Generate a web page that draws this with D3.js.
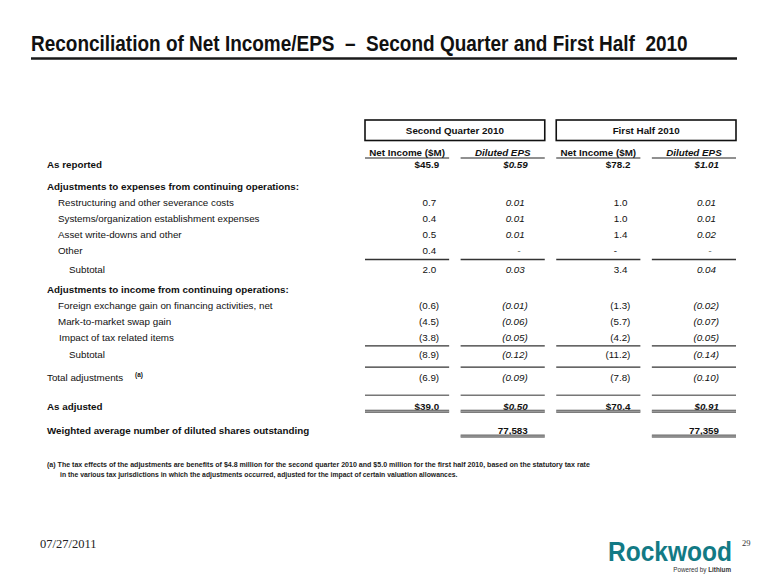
<!DOCTYPE html>
<html>
<head>
<meta charset="utf-8">
<script src="https://cdn.jsdelivr.net/npm/d3@7"></script>
<style>
  html, body { margin: 0; padding: 0; background: #ffffff; }
  svg { display: block; }
  text { white-space: pre; }
</style>
</head>
<body>
<svg id="chart" width="780" height="585"></svg>
<script>
// ---------------- DATA ----------------
const titleText = "Reconciliation of Net Income/EPS  \u2013  Second Quarter and First Half  2010";
const periods = ["Second Quarter 2010", "First Half 2010"];
const columnKeys = ["q2ni", "q2eps", "h1ni", "h1eps"];
const columnHeaders = ["Net Income ($M)", "Diluted EPS", "Net Income ($M)", "Diluted EPS"];
const rowLabels = [
  "As reported",
  "Adjustments to expenses from continuing operations:",
  "Restructuring and other severance costs",
  "Systems/organization establishment expenses",
  "Asset write-downs and other",
  "Other",
  "Subtotal",
  "Adjustments to income from continuing operations:",
  "Foreign exchange gain on financing activities, net",
  "Mark-to-market swap gain",
  "Impact of tax related items",
  "Subtotal",
  "Total adjustments",
  "As adjusted",
  "Weighted average number of diluted shares outstanding"
];
const netIncomeQ2 = [45.9, null, 0.7, 0.4, 0.5, 0.4, 2.0, null, -0.6, -4.5, -3.8, -8.9, -6.9, 39.0, null];
const epsQ2       = [0.59, null, 0.01, 0.01, 0.01, 0, 0.03, null, -0.01, -0.06, -0.05, -0.12, -0.09, 0.50, null];
const netIncomeH1 = [78.2, null, 1.0, 1.0, 1.4, 0, 3.4, null, -1.3, -5.7, -4.2, -11.2, -7.8, 70.4, null];
const epsH1       = [1.01, null, 0.01, 0.01, 0.02, 0, 0.04, null, -0.02, -0.07, -0.05, -0.14, -0.10, 0.91, null];
const dilutedShares = [77583, 77359];
const footnoteLines = [
  "(a) The tax effects of the adjustments are benefits of $4.8 million for the second quarter 2010 and $5.0 million for the first half 2010, based on the statutory tax rate",
  "in the various tax jurisdictions in which the adjustments occurred, adjusted for the impact of certain valuation allowances."
];
const footerDate = "07/27/2011";
const pageNumber = "29";

// ---------------- LAYOUT (not data) ----------------
const rowKind = ["bold","section","item","item","item","item","subtotal","section","item","item","item","subtotal","plain","bold","bold"];
const rowSlot = [0, 1.4, 2.35, 3.35, 4.35, 5.35, 6.55, 7.8, 8.8, 9.8, 10.8, 11.9, 13.3, 15.1, 16.65];
const dollarRows = [0, 13];
const boldValueRows = [0, 13, 14];
const rules = [
  {slot: 5.72, type: "single", cols: columnKeys},
  {slot: 11.12, type: "single", cols: columnKeys},
  {slot: 12.44, type: "single", cols: columnKeys},
  {slot: 14.2, type: "thin", cols: columnKeys},
  {slot: 15.2, type: "double", cols: columnKeys},
  {slot: 16.75, type: "double", cols: ["q2eps", "h1eps"]}
];

const svg = d3.select("#chart");
const FONT = "'Liberation Sans', Arial, Helvetica, sans-serif";
const FS = 9.8;

// scales
const y = d3.scaleLinear().domain([0, 1]).range([168, 184]);
const x = d3.scaleBand().domain(columnKeys).range([365, 736]).paddingInner(0.12).paddingOuter(0);
const isEps = k => k.endsWith("eps");
const numRight = k => x(k) + x.bandwidth() - (isEps(k) ? 20 : 13);

// helper: condensed text by horizontal scaling to a target width
function condensed(sel, x0, yb, width) {
  const w = sel.node().getComputedTextLength();
  sel.attr("x", 0).attr("y", 0)
     .attr("transform", `translate(${x0},${yb}) scale(${width / w},1)`);
}

// ---------------- TITLE ----------------
const title = svg.append("text")
  .attr("font-family", FONT).attr("font-weight", "bold")
  .attr("font-size", 22).attr("fill", "#111")
  .text(titleText);
condensed(title, 31, 51, 657);

svg.append("line").attr("x1", 31).attr("x2", 737).attr("y1", 58.5).attr("y2", 58.5)
  .attr("stroke", "#1a1a1a").attr("stroke-width", 2.6);

// ---------------- PERIOD BOXES ----------------
const periodSpans = [["q2ni", "q2eps"], ["h1ni", "h1eps"]];
periodSpans.forEach((span, i) => {
  const x0 = x(span[0]), x1 = x(span[1]) + x.bandwidth();
  svg.append("rect").attr("x", x0).attr("y", 120).attr("width", x1 - x0).attr("height", 20.5)
    .attr("fill", "#fff").attr("stroke", "#111").attr("stroke-width", 1.6);
  svg.append("text").attr("x", (x0 + x1) / 2).attr("y", 134)
    .attr("text-anchor", "middle").attr("font-family", FONT).attr("font-weight", "bold")
    .attr("font-size", FS).attr("fill", "#111").text(periods[i]);
});

// column headers
columnKeys.forEach((k, i) => {
  svg.append("text").attr("x", x(k) + x.bandwidth() / 2).attr("y", 155.5)
    .attr("text-anchor", "middle").attr("font-family", FONT).attr("font-weight", "bold")
    .attr("font-style", isEps(k) ? "italic" : "normal")
    .attr("font-size", FS).attr("fill", "#111").text(columnHeaders[i]);
  svg.append("line").attr("x1", x(k)).attr("x2", x(k) + x.bandwidth())
    .attr("y1", 158).attr("y2", 158).attr("stroke", "#222").attr("stroke-width", 1.2);
});

// ---------------- ROW LABELS ----------------
const labelX = {bold: 47, section: 47, plain: 47, item: 58, subtotal: 69};
svg.append("g").selectAll("text").data(rowLabels).join("text")
  .attr("x", (d, i) => labelX[rowKind[i]] + (i === 10 ? 1 : 0))
  .attr("y", (d, i) => y(rowSlot[i]))
  .attr("font-family", FONT)
  .attr("font-weight", (d, i) => (rowKind[i] === "bold" || rowKind[i] === "section") ? "bold" : "normal")
  .attr("font-size", FS).attr("fill", "#111")
  .text(d => d);

// superscript (a)
svg.append("text").attr("x", 135).attr("y", y(rowSlot[12]) - 4)
  .attr("font-family", FONT).attr("font-weight", "bold").attr("font-size", 6.5).attr("fill", "#111").text("(a)");

// ---------------- VALUES ----------------
const seriesByKey = {q2ni: netIncomeQ2, q2eps: epsQ2, h1ni: netIncomeH1, h1eps: epsH1};
const fmtNI = d3.format(".1f"), fmtEPS = d3.format(".2f"), fmtShares = d3.format(",");
const cells = [];
columnKeys.forEach(k => {
  seriesByKey[k].forEach((v, i) => {
    if (v === null) return;
    const f = isEps(k) ? fmtEPS : fmtNI;
    let txt, kind;
    if (v === 0) { txt = "-"; kind = "dash"; }
    else if (v < 0) { txt = "(" + f(-v) + ")"; kind = "neg"; }
    else { txt = (dollarRows.includes(i) ? "$" : "") + f(v); kind = "pos"; }
    cells.push({k, i, txt, kind});
  });
});
cells.push({k: "q2eps", i: 14, txt: fmtShares(dilutedShares[0]), kind: "bold"});
cells.push({k: "h1eps", i: 14, txt: fmtShares(dilutedShares[1]), kind: "bold"});

svg.append("g").selectAll("text").data(cells).join("text")
  .attr("x", d => {
    const r = numRight(d.k);
    if (d.kind === "dash") return r - (isEps(d.k) ? 6 : 12);
    if (d.kind === "neg" || boldValueRows.includes(d.i)) return r + 3;
    return r;
  })
  .attr("y", d => y(rowSlot[d.i]))
  .attr("text-anchor", d => d.kind === "dash" ? "middle" : "end")
  .attr("font-family", FONT)
  .attr("font-weight", d => boldValueRows.includes(d.i) ? "bold" : "normal")
  .attr("font-style", d => (isEps(d.k) && d.i !== 14) ? "italic" : "normal")
  .attr("font-size", FS).attr("fill", "#111")
  .text(d => d.txt);

// ---------------- RULES ----------------
rules.forEach(r => {
  r.cols.forEach(k => {
    const x0 = x(k), x1 = x(k) + x.bandwidth(), yy = y(r.slot);
    if (r.type === "double") {
      svg.append("rect").attr("x", x0).attr("y", yy - 1.5).attr("width", x1 - x0).attr("height", 3.2).attr("fill", "#6e6e6e");
      svg.append("line").attr("x1", x0).attr("x2", x1).attr("y1", yy + 0.1).attr("y2", yy + 0.1)
        .attr("stroke", "#b0b0b0").attr("stroke-width", 0.8);
    } else if (r.type === "thin") {
      svg.append("line").attr("x1", x0).attr("x2", x1).attr("y1", yy).attr("y2", yy)
        .attr("stroke", "#777").attr("stroke-width", 1.6);
    } else {
      svg.append("line").attr("x1", x0).attr("x2", x1).attr("y1", yy).attr("y2", yy)
        .attr("stroke", "#333").attr("stroke-width", 1.3);
    }
  });
});

// ---------------- FOOTNOTE ----------------
const fnX = [47, 60], fnY = [467, 477], fnW = [544, 398];
footnoteLines.forEach((t, i) => {
  const fn = svg.append("text")
    .attr("font-family", FONT).attr("font-weight", "bold").attr("font-size", 6.8).attr("fill", "#222")
    .text(t);
  condensed(fn, fnX[i], fnY[i], fnW[i]);
});

// ---------------- FOOTER ----------------
svg.append("text").attr("x", 40).attr("y", 548)
  .attr("font-family", "'Liberation Serif', 'Times New Roman', serif").attr("font-size", 12.5).attr("fill", "#222")
  .text(footerDate);
svg.append("text").attr("x", 742).attr("y", 546)
  .attr("font-family", "'Liberation Serif', 'Times New Roman', serif").attr("font-size", 8.5).attr("fill", "#333")
  .text(pageNumber);

// logo
const logo = svg.append("g");
const rw = logo.append("text")
  .attr("font-family", FONT).attr("font-weight", "bold").attr("font-size", 28).attr("fill", "#127a85")
  .text("Rockwood");
condensed(rw, 608, 561, 124);
const pb = logo.append("text").attr("x", 731).attr("y", 572).attr("text-anchor", "end")
  .attr("font-family", FONT).attr("font-size", 6.3).attr("fill", "#333");
pb.append("tspan").text("Powered by ");
pb.append("tspan").attr("font-weight", "bold").text("Lithium");
</script>
</body>
</html>
